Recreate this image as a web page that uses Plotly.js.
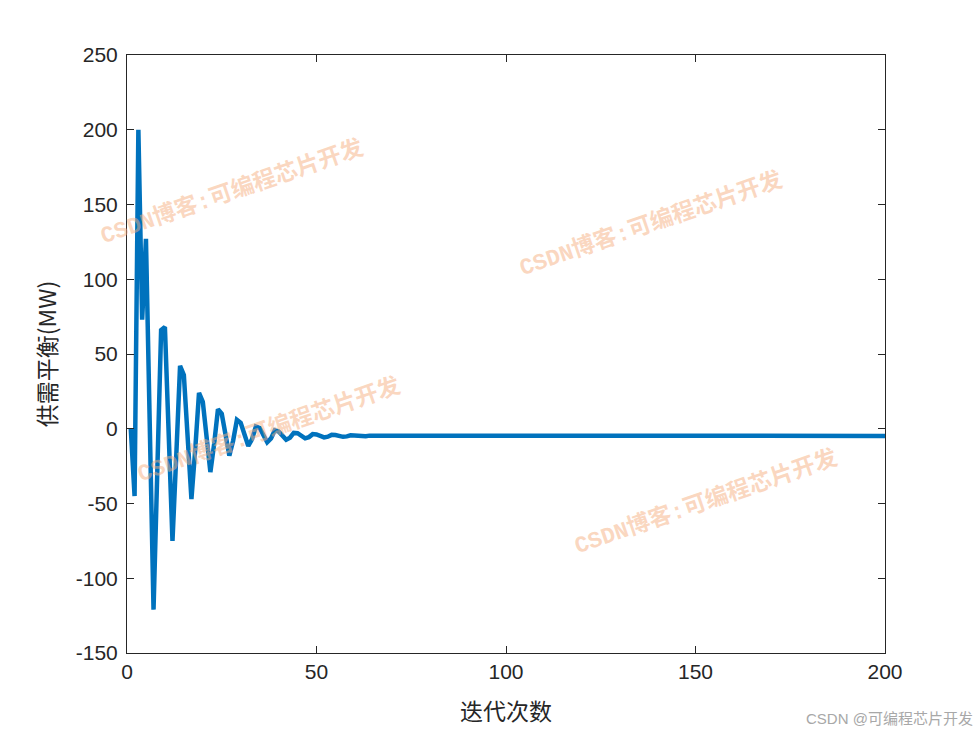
<!DOCTYPE html>
<html>
<head>
<meta charset="utf-8">
<script src="https://cdn.plot.ly/plotly-3.0.1.min.js"></script>
<style>html,body{margin:0;padding:0;background:#fff;}#chart{width:980px;height:735px;}</style>
</head>
<body>
<div id="chart"></div>
<script>
// Iterations 1..200
const headValues = [
  0, -45, 200, 73, 127, 2, -121, -28, 66, 68,
  -5, -75, -18, 42, 36, -12, -47, -14, 24, 18,
  -8, -29, -10, 13, 10, -6, -18, -8, 6, 4,
  -5, -11.5, -7, 1.5, 0.5, -5, -9, -6.5, -1, -1.8,
  -5, -7.3, -6, -2.8, -3, -5, -6.4, -5.6, -3.6, -3.8,
  -5, -5.8, -5.3, -4.1, -4.2, -4.9, -5.4, -5.1, -4.4, -4.5,
  -4.9, -5.2, -5.0, -4.6, -4.6, -4.8, -5.05, -4.95, -4.7, -4.7,
  -4.8, -4.95, -4.9, -4.75, -4.75, -4.8, -4.9, -4.85, -4.78, -4.78
];
const tailValues = [
  -4.8,-4.8,-4.8,-4.8,-4.8,-4.8,-4.8,-4.8,-4.8,-4.8,
  -4.8,-4.8,-4.8,-4.8,-4.8,-4.8,-4.8,-4.8,-4.8,-4.8,
  -4.8,-4.8,-4.8,-4.8,-4.8,-4.8,-4.8,-4.8,-4.8,-4.8,
  -4.8,-4.8,-4.8,-4.8,-4.8,-4.8,-4.8,-4.8,-4.8,-4.8,
  -4.8,-4.8,-4.8,-4.8,-4.8,-4.8,-4.8,-4.8,-4.8,-4.8,
  -4.8,-4.8,-4.8,-4.8,-4.8,-4.8,-4.8,-4.8,-4.8,-4.8,
  -4.8,-4.8,-4.8,-4.8,-4.8,-4.8,-4.8,-4.8,-4.8,-4.8,
  -4.8,-4.8,-4.8,-4.8,-4.8,-4.8,-4.8,-4.8,-4.8,-4.8,
  -4.8,-4.8,-4.8,-4.8,-4.8,-4.8,-4.8,-4.8,-4.8,-4.8,
  -4.8,-4.8,-4.8,-4.8,-4.8,-4.8,-4.8,-4.8,-4.8,-4.8,
  -4.8,-4.8,-4.8,-4.8,-4.8,-4.8,-4.8,-4.8,-4.8,-4.8,
  -4.8,-4.8,-4.8,-4.8,-4.8,-4.8,-4.8,-4.8,-4.8,-4.8
];
const balance = headValues.concat(tailValues);
const iterations = balance.map((_, i) => i + 1);

const xTicks = [0, 50, 100, 150, 200];
const yTicks = [-150, -100, -50, 0, 50, 100, 150, 200, 250];
const xLabel = '迭代次数';
const yLabel = '供需平衡(MW)';
const watermark = 'CSDN博客:可编程芯片开发';
const footer = 'CSDN @可编程芯片开发';

const axisFont = {family: 'Liberation Sans, Arial, sans-serif', size: 21, color: '#262626'};
const cjkFont = {family: 'Noto Sans CJK SC, sans-serif', size: 23, color: '#262626'};

const trace = {
  x: iterations, y: balance, type: 'scatter', mode: 'lines',
  line: {color: '#0072BD', width: 4.5}, hoverinfo: 'skip'
};

const wmStyle = {family: 'Liberation Mono, Noto Sans CJK SC, monospace', size: 23, color: 'rgba(246,175,130,0.5)'};
const wmPos = [[232, 192], [651, 224], [269, 430], [706, 502]];
const annotations = wmPos.map(p => ({
  text: '<b>' + watermark + '</b>', xref: 'paper', yref: 'paper',
  x: (p[0] - 127) / 758, y: (653 - p[1]) / 598,
  showarrow: false, textangle: -19, font: wmStyle, xanchor: 'center', yanchor: 'middle'
}));
annotations.push({
  text: footer, xref: 'paper', yref: 'paper', x: (975 - 127) / 758, y: (653 - 718) / 598,
  xanchor: 'right', yanchor: 'middle', showarrow: false,
  font: {family: 'Liberation Sans, Noto Sans CJK SC, sans-serif', size: 15, color: '#a8a8a8'}
});

const layout = {
  width: 980, height: 735,
  margin: {l: 127, r: 95, t: 55, b: 82},
  paper_bgcolor: '#ffffff', plot_bgcolor: '#ffffff',
  showlegend: false,
  xaxis: {
    range: [0, 200], tickvals: xTicks, ticktext: xTicks.map(String),
    ticks: 'inside', ticklen: 7, tickcolor: '#262626', tickwidth: 1,
    showline: true, linecolor: '#262626', linewidth: 1, mirror: 'ticks',
    showgrid: false, zeroline: false, tickfont: axisFont,
    title: {text: xLabel, font: cjkFont, standoff: 21}
  },
  yaxis: {
    range: [-150, 250], tickvals: yTicks, ticktext: yTicks.map(String),
    ticks: 'inside', ticklen: 7, tickcolor: '#262626', tickwidth: 1,
    showline: true, linecolor: '#262626', linewidth: 1, mirror: 'ticks',
    ticklabelstandoff: 4,
    showgrid: false, zeroline: false, tickfont: axisFont,
    title: {text: yLabel, font: cjkFont, standoff: 12}
  },
  annotations: annotations
};

Plotly.newPlot('chart', [trace], layout, {displayModeBar: false, staticPlot: true});
</script>
</body>
</html>
